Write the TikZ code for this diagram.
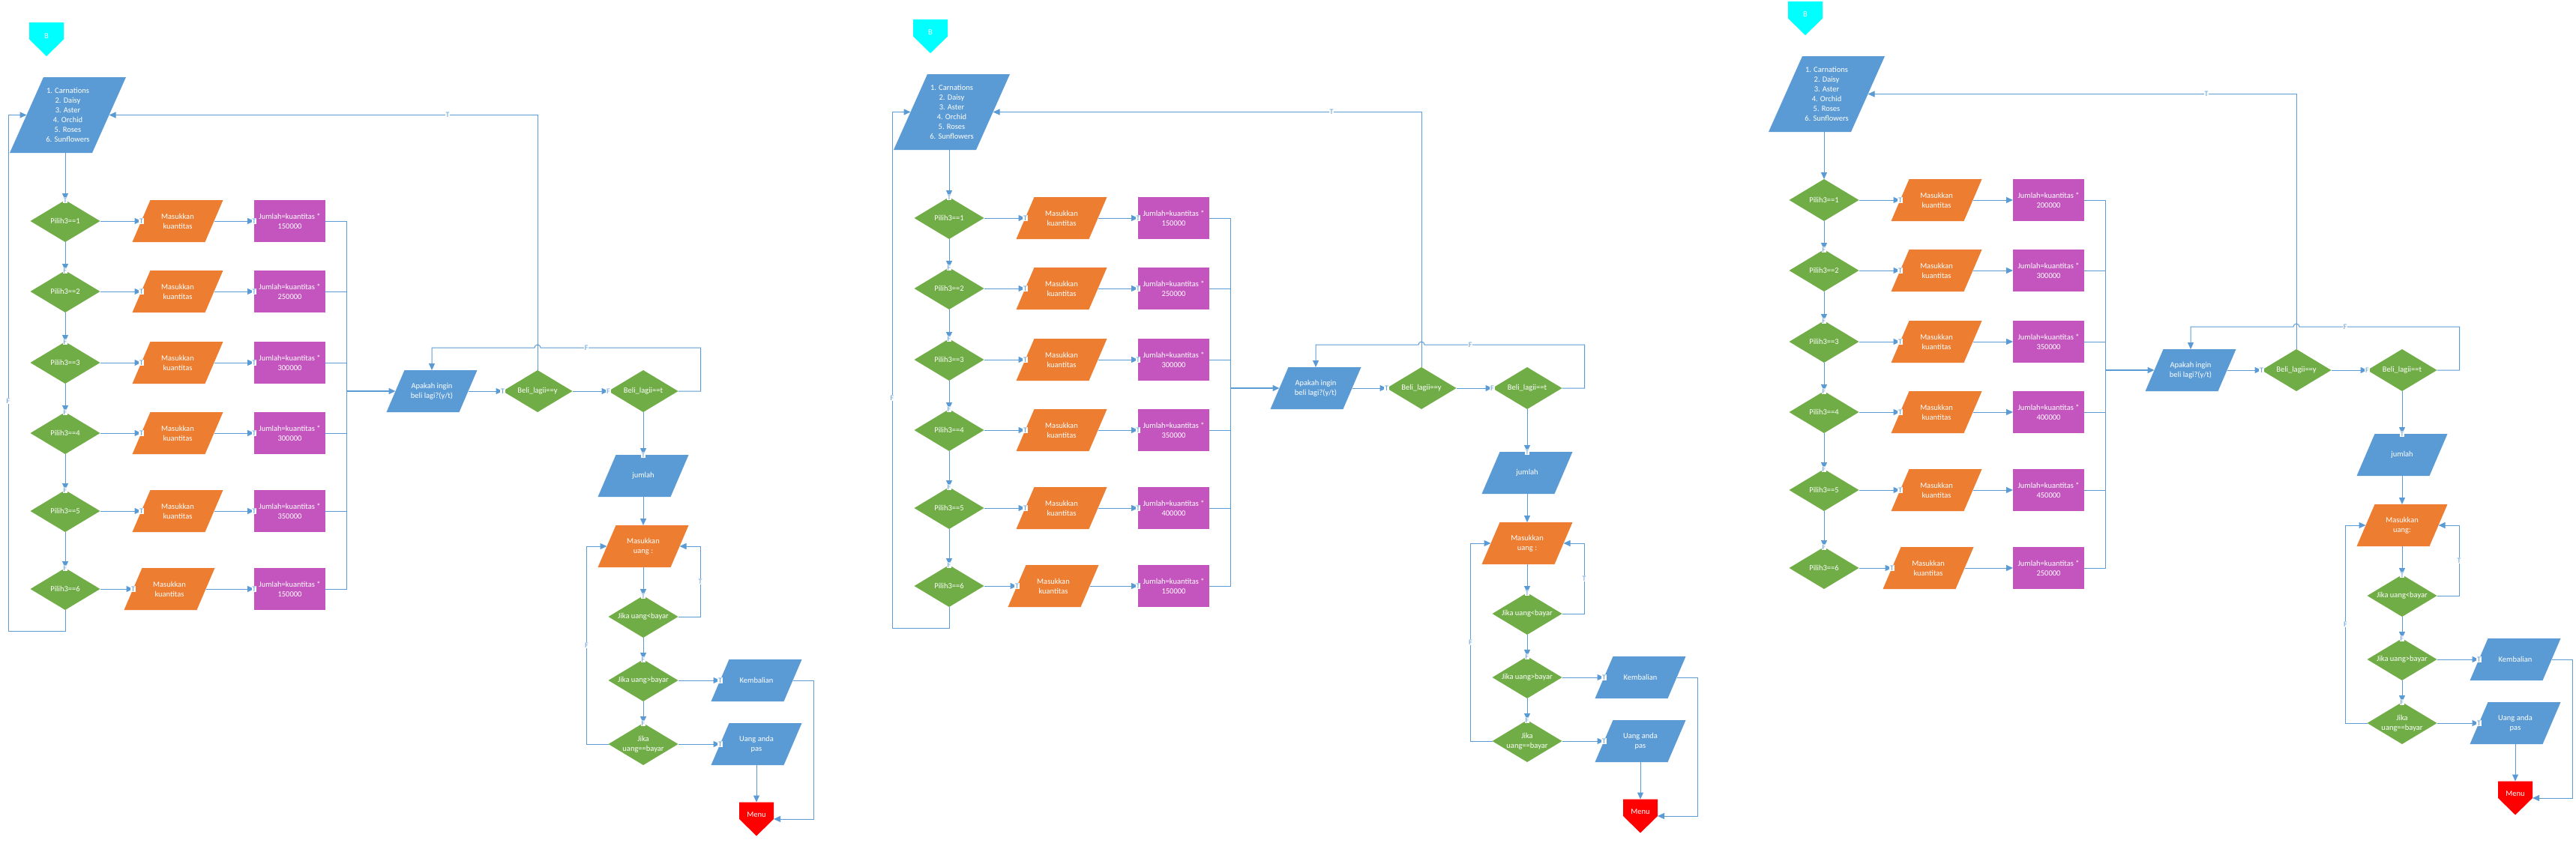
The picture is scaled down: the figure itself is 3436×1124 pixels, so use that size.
\documentclass[tikz,border=0pt]{standalone}
\usepackage{fontspec}
\setmainfont{Carlito}
\usetikzlibrary{arrows.meta,calc,backgrounds}
\definecolor{cblue}{HTML}{5B9BD5}
\definecolor{corange}{HTML}{ED7D31}
\definecolor{cgreen}{HTML}{70AD47}
\definecolor{cmag}{HTML}{C455BE}
\definecolor{ccyan}{HTML}{00FFFF}
\definecolor{cred}{HTML}{FF0000}
\definecolor{cline}{HTML}{5B9BD5}
\tikzset{
  base/.style={rectangle, inner sep=0pt, outer sep=0pt, align=center, text=white, font=\fontsize{10.5}{13}\selectfont},
  dia/.style={base, minimum width=93pt, minimum height=56pt},
  pgm/.style={base, minimum width=97pt, minimum height=56pt},
  mbox/.style={base, minimum width=95pt, minimum height=56pt},
  bigpg/.style={base, minimum width=110pt, minimum height=101pt},
  conn/.style={base, minimum width=46pt, minimum height=45pt},
  ln/.style={draw=cline, line width=1pt},
  arr/.style={ln, -{Triangle[length=9pt,width=8pt]}},
  lbl/.style={fill=white, text=cline, font=\fontsize{10}{10}\selectfont, inner sep=0.8pt},
}
\newcommand\fillDia[2]{\begin{scope}[on background layer]\fill[#2] (#1.north) -- (#1.east) -- (#1.south) -- (#1.west) -- cycle;\end{scope}}
\newcommand\fillPg[3]{\begin{scope}[on background layer]\fill[#2] ($(#1.north west)+(#3/2,0)$) -- ($(#1.north east)+(#3/2,0)$) -- ($(#1.south east)-(#3/2,0)$) -- ($(#1.south west)-(#3/2,0)$) -- cycle;\end{scope}}
\newcommand\fillRc[2]{\begin{scope}[on background layer]\fill[#2] (#1.north west) rectangle (#1.south east);\end{scope}}
\newcommand\fillPent[2]{\begin{scope}[on background layer]\fill[#2] (#1.north west) -- (#1.north east) -- (#1.east) -- (#1.south) -- (#1.west) -- cycle;\end{scope}}
% one row: #1 prefix, #2 index, #3 y, #4 orange x, #5 price, #6 flag
\newcommand\flrow[6]{%
  \node[dia] (#1d#2) at (87,#3) {Pilih3==#2}; \fillDia{#1d#2}{cgreen}
  \node[pgm] (#1o#2) at (#4,#3) {Masukkan\\kuantitas}; \fillPg{#1o#2}{corange}{24}
  \node[mbox] (#1m#2) at (386.5,#3) {Jumlah=kuantitas *\\#5}; \fillRc{#1m#2}{cmag}
  \draw[arr] (#1d#2.east) -- (#1o#2.west) node[lbl]{T};
  \ifnum#6=1\relax
    \draw[arr] (#1o#2.east) -- (#1m#2.west) node[lbl]{T};
  \else
    \draw[arr] (#1o#2.east) -- (#1m#2.west);
  \fi
  \draw[ln] (#1m#2.east) -| (#1bus);
}
% whole chart: #1 prefix, #2-#7 prices, #8 uang text, #9 flag
\newcommand\flowchartX[9]{%
  \node[conn] (#1B) at (62,52.5) {\raisebox{1.5pt}[0pt][0pt]{B}}; \fillPent{#1B}{ccyan}
  \node[bigpg] (#1menu) at (90.5,153.5) {1. Carnations\\2. Daisy\\3. Aster\\4. Orchid\\5. Roses\\6. Sunflowers}; \fillPg{#1menu}{cblue}{45}
  \coordinate (#1bus) at (462,522);
  \flrow{#1}{1}{295}{237}{#2}{#9}
  \flrow{#1}{2}{389}{237}{#3}{#9}
  \flrow{#1}{3}{484}{237}{#4}{#9}
  \flrow{#1}{4}{578}{237}{#5}{#9}
  \flrow{#1}{5}{682}{237}{#6}{#9}
  \flrow{#1}{6}{786}{226}{#7}{#9}
  \draw[arr] (#1d1.south) -- (#1d2.north) node[lbl]{F};
  \draw[arr] (#1d2.south) -- (#1d3.north) node[lbl]{F};
  \draw[arr] (#1d3.south) -- (#1d4.north) node[lbl]{F};
  \draw[arr] (#1d4.south) -- (#1d5.north) node[lbl]{F};
  \draw[arr] (#1d5.south) -- (#1d6.north) node[lbl]{F};
  \ifnum#9=1\relax
    \draw[arr] (#1d1.north |- #1menu.south) -- (#1d1.north) node[lbl]{T};
    \draw[arr] (#1d6.south) -- ++(0,28.5) -| ([xshift=-24.5pt]#1menu.west) node[lbl,pos=0.723]{F} -- (#1menu.west);
  \else
    \draw[arr] (#1d1.north |- #1menu.south) -- (#1d1.north);
  \fi
  \node[pgm] (#1ap) at (576,522) {Apakah ingin\\beli lagi?(y/t)}; \fillPg{#1ap}{cblue}{24}
  \node[dia] (#1by) at (717,522) {Beli\_lagii==y}; \fillDia{#1by}{cgreen}
  \node[dia] (#1bt) at (858,522) {Beli\_lagii==t}; \fillDia{#1bt}{cgreen}
  \draw[arr, line width=1.6pt] (#1bus) -- (#1ap.west);
  \draw[arr] (#1ap.east) -- (#1by.west) node[lbl]{T};
  \draw[arr] (#1by.east) -- (#1bt.west) node[lbl]{F};
  \draw[arr] (#1by.north) |- (#1menu.east) node[lbl,pos=0.605]{T};
  \draw[arr] (#1bt.east) -- ++(30,0) |- ($(#1by.north)+(4,-30)$) node[lbl,pos=0.857]{F} arc[start angle=0,end angle=180,radius=4pt] -| (#1ap.north);
  \node[pgm] (#1jm) at (858,635) {jumlah}; \fillPg{#1jm}{cblue}{24}
  \draw[arr] (#1bt.south) -- (#1jm.north) node[lbl]{T};
  \node[pgm] (#1mu) at (858,729) {Masukkan\\#8}; \fillPg{#1mu}{corange}{24}
  \draw[arr] (#1jm.south) -- (#1mu.north);
  \node[dia] (#1jl) at (858,823) {Jika uang<bayar}; \fillDia{#1jl}{cgreen}
  \draw[arr] (#1mu.south) -- (#1jl.north) node[lbl]{T};
  \draw[arr] (#1jl.east) -- ++(29.5,0) |- (#1mu.east) node[lbl,pos=0.25]{T};
  \node[dia] (#1jg) at (858,908) {Jika uang>bayar}; \fillDia{#1jg}{cgreen}
  \draw[arr] (#1jl.south) -- (#1jg.north) node[lbl]{F};
  \node[dia] (#1je) at (858,993) {Jika\\uang==bayar}; \fillDia{#1je}{cgreen}
  \draw[arr] (#1jg.south) -- (#1je.north) node[lbl]{F};
  \draw[arr] (#1je.west) -- ++(-29,0) |- (#1mu.west) node[lbl,pos=0.25]{F};
  \node[pgm] (#1kb) at (1009,908) {Kembalian}; \fillPg{#1kb}{cblue}{24}
  \draw[arr] (#1jg.east) -- (#1kb.west) node[lbl]{T};
  \node[pgm] (#1ua) at (1009,993) {Uang anda\\pas}; \fillPg{#1ua}{cblue}{24}
  \draw[arr] (#1je.east) -- (#1ua.west) node[lbl]{T};
  \node[conn] (#1mn) at (1009,1093) {\raisebox{2.5pt}[0pt][0pt]{Menu}}; \fillPent{#1mn}{cred}
  \draw[arr] (#1ua.south) -- (#1mn.north);
  \draw[arr] (#1kb.east) -- ++(27.5,0) |- (#1mn.east);
}
\begin{document}
\begin{tikzpicture}[x=1pt,y=-1pt]
\useasboundingbox (0,0) rectangle (3436,1124);
\begin{scope}[on background layer]\fill[white] (0,0) rectangle (3436,1124);\end{scope}
\begin{scope}[shift={(0,0)}]
  \flowchartX{a}{150000}{250000}{300000}{300000}{350000}{150000}{uang :}{1}
\end{scope}
\begin{scope}[shift={(1179,-4)}]
  \flowchartX{b}{150000}{250000}{300000}{350000}{400000}{150000}{uang :}{1}
\end{scope}
\begin{scope}[shift={(2346,-28)}]
  \flowchartX{c}{200000}{300000}{350000}{400000}{450000}{250000}{uang:}{0}
\end{scope}
\end{tikzpicture}
\end{document}
